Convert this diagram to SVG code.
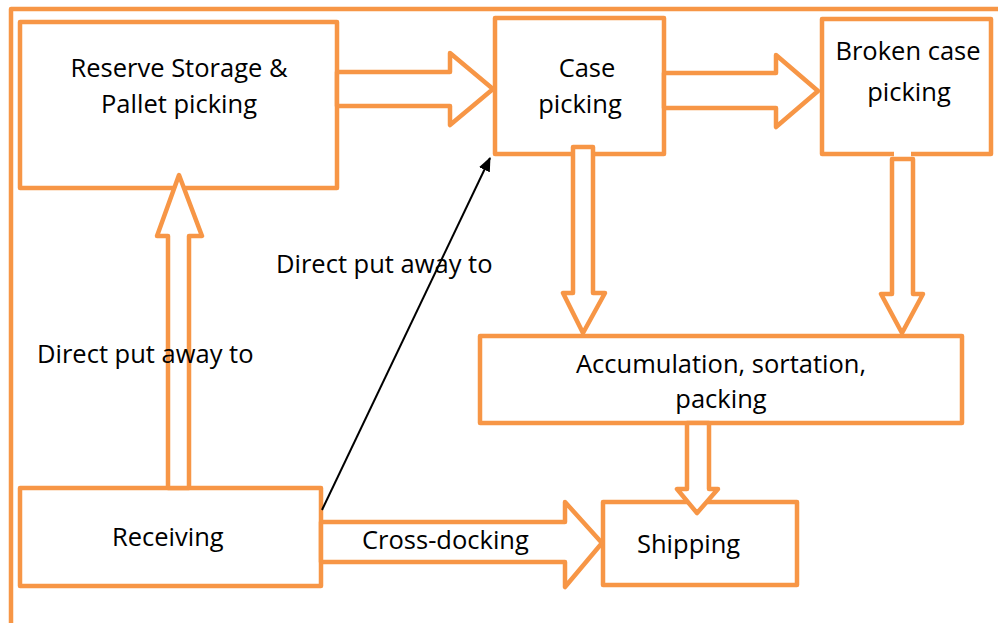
<svg xmlns="http://www.w3.org/2000/svg" width="998" height="623" viewBox="0 0 998 623">
<style>
.box{fill:#fff;stroke:#F79646;stroke-width:4.5;stroke-linejoin:round}
.blk{fill:#fff;stroke:#F79646;stroke-width:4.5;stroke-linejoin:round}
.frame{fill:none;stroke:#F79646;stroke-width:4.5;stroke-linejoin:round}
.t{font-family:"Open Sans","Noto Sans","Liberation Sans",sans-serif;font-size:25.5px;fill:#000}
.c{text-anchor:middle}
</style>
<defs>
<marker id="ah" markerWidth="14" markerHeight="12" refX="13" refY="6" orient="auto" markerUnits="userSpaceOnUse">
<path d="M0,0 L14,6 L0,12 Z" fill="#000"/>
</marker>
</defs>
<rect width="998" height="623" fill="#fff"/>
<path class="frame" d="M11,623 L11,9 L998,9"/>
<g id="nodes">
<g id="reserve">
<rect class="box" x="20" y="22" width="317" height="166"/>
<text class="t c" x="179" y="77">Reserve Storage &amp;</text>
<text class="t c" x="179" y="113">Pallet picking</text>
</g>
<g id="case">
<rect class="box" x="495" y="18" width="169" height="136"/>
<text class="t c" x="587" y="77">Case</text>
<text class="t c" x="580" y="113">picking</text>
</g>
<g id="broken">
<rect class="box" x="822" y="19" width="169" height="135"/>
<text class="t c" x="908" y="60">Broken case</text>
<text class="t c" x="909" y="101">picking</text>
</g>
<g id="accumulation">
<rect class="box" x="480" y="336" width="482" height="87"/>
<text class="t c" x="721" y="373">Accumulation, sortation,</text>
<text class="t c" x="721" y="408">packing</text>
</g>
<g id="shipping">
<rect class="box" x="603" y="502" width="194" height="83"/>
<text class="t" x="637" y="553">Shipping</text>
</g>
<g id="receiving">
<rect class="box" x="20" y="488" width="301" height="98"/>
<text class="t" x="112" y="546">Receiving</text>
</g>
</g>
<g id="connectors">
<polygon class="blk" points="337,72 450,72 450,53 493,89 450,125 450,106 337,106"/>
<polygon class="blk" points="664,73 776,73 776,55 818,91 776,127 776,108 664,108"/>
<polygon class="blk" points="168,488 168,236 157,236 179,175 202,236 189,236 189,488"/>
<polygon class="blk" points="573,147 593,147 593,293 605,293 583,333 563,293 573,293"/>
<rect x="894" y="151" width="17" height="6" fill="#fff"/>
<polygon class="blk" points="892,159 913,159 913,294 923,294 902,333 881,294 892,294"/>
<polygon class="blk" points="687,423 709,423 709,489 718,489 697,513 677,489 687,489"/>
<polygon class="blk" points="321,522 565,522 565,502 602,543 565,587 565,562 321,562"/>
<line x1="322" y1="510" x2="490" y2="158" stroke="#000" stroke-width="2" marker-end="url(#ah)"/>
<text class="t" x="37" y="363">Direct put away to</text>
<text class="t" x="276" y="273">Direct put away to</text>
<text class="t" x="362" y="549">Cross-docking</text>
</g>
</svg>
